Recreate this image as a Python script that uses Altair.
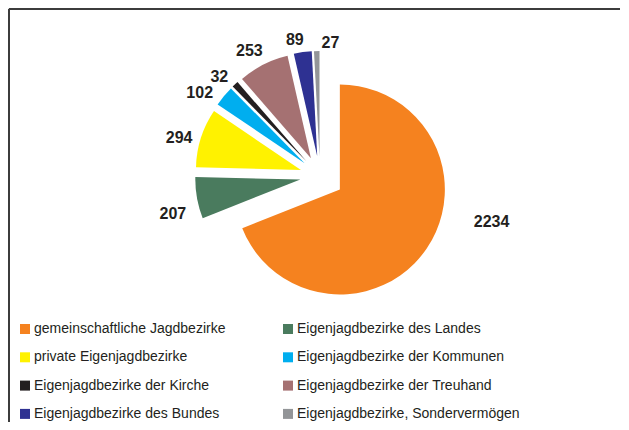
import altair as alt
import pandas as pd

# ---- data ----
categories = [
    "gemeinschaftliche Jagdbezirke",
    "Eigenjagdbezirke des Landes",
    "private Eigenjagdbezirke",
    "Eigenjagdbezirke der Kommunen",
    "Eigenjagdbezirke der Kirche",
    "Eigenjagdbezirke der Treuhand",
    "Eigenjagdbezirke des Bundes",
    "Eigenjagdbezirke, Sondervermögen",
]
values = [2234, 207, 294, 102, 32, 253, 89, 27]
colors = ["#F5821F", "#4A7B5E", "#FFF200", "#00AEEF", "#231F20", "#A57172", "#2E3192", "#939598"]

# ---- layout parameters ----
W, H = 612, 414
CX, CY = 312, 168          # pie centre (before explosion)
R = 105                     # pie radius
EXPLODE_MAX, EXPLODE = 24, 20
LABEL_BIAS = -3             # deg, general label angle shift
# label angle nudge (deg) and extra distance (px) for labels Excel moved
label_nudge = {
    "gemeinschaftliche Jagdbezirke": (-19, 24),
    "Eigenjagdbezirke des Landes": (-2, 6),
    "Eigenjagdbezirke der Kommunen": (-3, 0),
    "Eigenjagdbezirke, Sondervermögen": (10, -3),
}

df = pd.DataFrame({
    "cat": categories,
    "value": values,
    "order": list(range(len(categories))),
    "nudge": [label_nudge.get(c, (0, 0))[0] + LABEL_BIAS for c in categories],
    "extra": [label_nudge.get(c, (0, 0))[1] for c in categories],
})

base = alt.Chart(df).transform_window(
    cum="sum(value)", sort=[alt.SortField("order")], frame=[None, 0]
).transform_joinaggregate(
    total="sum(value)", maxv="max(value)"
).transform_calculate(
    start="datum.cum - datum.value",
    end="datum.cum",
    mid="PI * (2 * datum.cum - datum.value) / datum.total",
    ex=f"datum.value == datum.maxv ? {EXPLODE_MAX} : {EXPLODE}",
).transform_calculate(
    cx=f"{CX} + datum.ex * sin(datum.mid)",
    cy=f"{CY} - datum.ex * cos(datum.mid)",
    la="datum.mid + datum.nudge * PI / 180",
    lbl="format(datum.value, 'd')",
).transform_calculate(
    ld=f"{R} + 3 + 5.5 * length(datum.lbl) * abs(sin(datum.la)) + 8 * abs(cos(datum.la)) + datum.extra",
).transform_calculate(
    lx="datum.cx + datum.ld * sin(datum.la)",
    ly="datum.cy - datum.ld * cos(datum.la)",
)

arcs = base.mark_arc(outerRadius=R, stroke=None).encode(
    x=alt.X("cx:Q", scale=None, axis=None),
    y=alt.Y("cy:Q", scale=None, axis=None),
    theta=alt.Theta("start:Q", stack=None,
                    scale=alt.Scale(domain=[0, sum(values)], range=[0, 6.283185307179586])),
    theta2="end:Q",
    color=alt.Color(
        "cat:N",
        scale=alt.Scale(domain=categories, range=colors),
        sort=categories,
        legend=alt.Legend(
            title=None, orient="none", legendX=10, legendY=314, columns=2,
            direction="horizontal",
            columnPadding=55, rowPadding=14.3, symbolType="square", symbolSize=100,
            symbolStrokeWidth=0, labelFontSize=14, labelFont="Liberation Sans",
            labelColor="#231F20", labelLimit=400, labelOffset=2,
        ),
    ),
)

labels = base.mark_text(
    font="Liberation Sans", fontSize=16, fontWeight="bold", color="#231F20",
    align="center", baseline="middle",
).encode(
    x=alt.X("lx:Q", scale=None, axis=None),
    y=alt.Y("ly:Q", scale=None, axis=None),
    text="lbl:N",
)

frame_top = alt.Chart(df).mark_rule(color="#3C3C3C", strokeWidth=2).encode(
    x=alt.value(1), x2=alt.value(W), y=alt.value(1)
)
frame_left = alt.Chart(df).mark_rule(color="#3C3C3C", strokeWidth=2).encode(
    x=alt.value(1), y=alt.value(1), y2=alt.value(H)
)

chart = alt.layer(frame_top, frame_left, arcs, labels).properties(
    width=W, height=H, padding=0, autosize=alt.AutoSizeParams(type="none"),
).configure_view(stroke=None).configure(background="white")

chart.save("out.html", embed_options={"renderer": "svg", "actions": False})
